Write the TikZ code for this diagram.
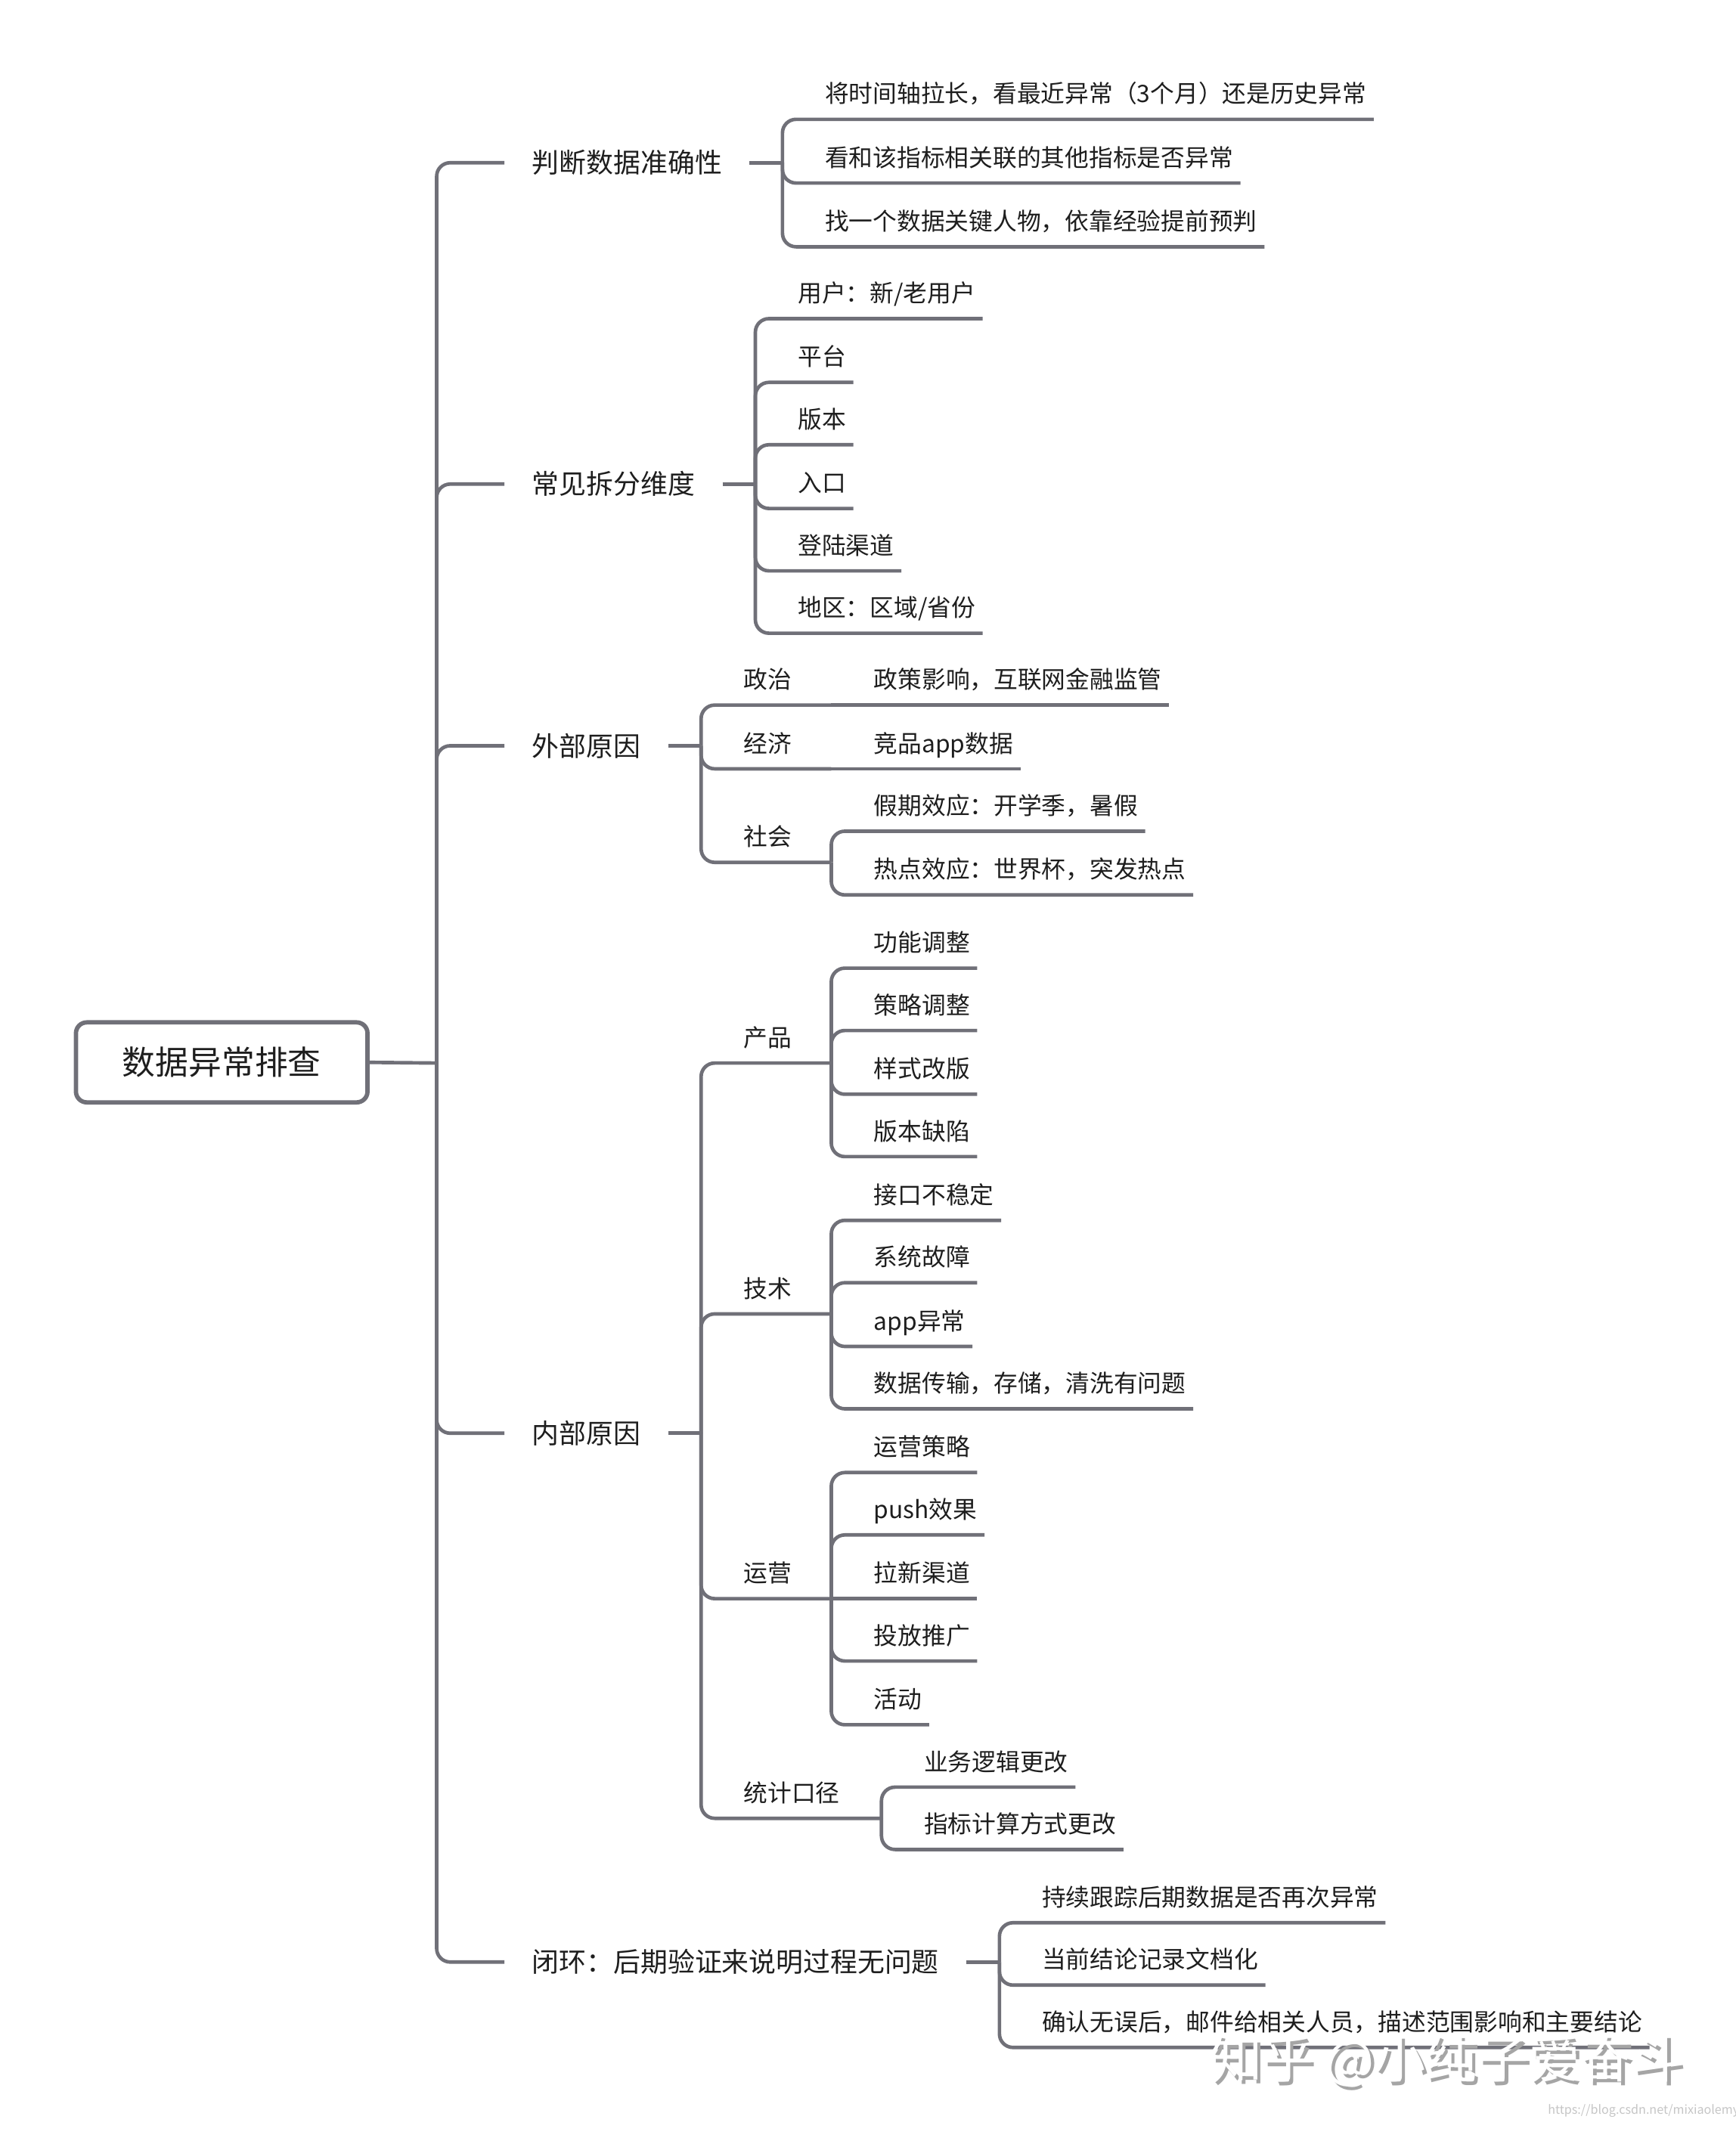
\documentclass[tikz,border=0pt]{standalone}
\usepackage{fontspec}
\setmainfont{Noto Sans CJK SC}
\definecolor{lg}{RGB}{112,112,120}
\definecolor{tx}{RGB}{30,30,30}
\definecolor{wsh}{RGB}{165,165,165}
\begin{document}
\begin{tikzpicture}[x=0.5pt,y=-0.5pt,
  conn/.style={draw=lg,line width=1.3pt,rounded corners=5pt},
  straight/.style={draw=lg,line width=1.3pt},
  lone/.style={anchor=west,inner xsep=10pt,inner ysep=0pt,text height=8.6pt,text depth=1pt,font=\fontsize{10}{12}\selectfont,text=tx},
  leaf/.style={anchor=south west,inner xsep=2.5pt,inner ysep=0pt,text height=8pt,text depth=5.9pt,font=\fontsize{8.85}{10}\selectfont,text=tx},
  rootbox/.style={draw=lg,line width=1.6pt,rounded corners=4pt,minimum width=107.5pt,minimum height=29.5pt,inner sep=0pt,font=\fontsize{12.2}{14}\selectfont,text=tx,fill=white},
  wmark/.style={font=\fontsize{19}{21}\selectfont,inner sep=0pt}]
\useasboundingbox (0,0) rectangle (1280,1579);
\fill[white] (0,0) rectangle (1280,1579);

% root
\node[rootbox] (root) at (163.5,783.5) {数据异常排查};
\coordinate (T) at (322,784);
\draw[straight] (root.east) -- (T);

% level 1
\node[lone] (a) at (372,120) {判断数据准确性};
\node[lone] (b) at (372,357) {常见拆分维度};
\node[lone] (c) at (372,550) {外部原因};
\node[lone] (d) at (372,1057) {内部原因};
\node[lone] (e) at (372,1447) {闭环：后期验证来说明过程无问题};
\foreach \n in {a,b,c,d,e}{\draw[conn] (T) -- (T |- \n.west) -- (\n.west);}

\coordinate (bA) at (577,120);
\coordinate (bB) at (557,357);
\coordinate (bC) at (517,550);
\coordinate (bD) at (517,1057);
\coordinate (bE) at (737,1447);
\draw[straight] (a.east) -- (bA);
\draw[straight] (b.east) -- (bB);
\draw[straight] (c.east) -- (bC);
\draw[straight] (d.east) -- (bD);
\draw[straight] (e.east) -- (bE);

% branch A
\node[leaf] (a1) at (603,88) {将时间轴拉长，看最近异常（3个月）还是历史异常};
\node[leaf] (a2) at (603,135) {看和该指标相关联的其他指标是否异常};
\node[leaf] (a3) at (603,182) {找一个数据关键人物，依靠经验提前预判};
\foreach \n in {a1,a2,a3}{\draw[conn] (bA) -- (bA |- \n.south) -- (\n.south east);}

% branch B
\node[leaf] (b1) at (583,235) {用户：新/老用户};
\node[leaf] (b2) at (583,282) {平台};
\node[leaf] (b3) at (583,328) {版本};
\node[leaf] (b4) at (583,375) {入口};
\node[leaf] (b5) at (583,421) {登陆渠道};
\node[leaf] (b6) at (583,467) {地区：区域/省份};
\foreach \n in {b1,b2,b3,b4,b5,b6}{\draw[conn] (bB) -- (bB |- \n.south) -- (\n.south east);}

% branch C
\node[leaf] (c1) at (543,520) {政治};
\node[leaf] (c2) at (543,567) {经济};
\node[leaf] (c3) at (543,636) {社会};
\coordinate (c1b) at (613,520);
\coordinate (c2b) at (613,567);
\coordinate (c3b) at (613,636);
\draw[conn] (bC) -- (bC |- c1.south) -- (c1b);
\draw[conn] (bC) -- (bC |- c2.south) -- (c2b);
\draw[conn] (bC) -- (bC |- c3.south) -- (c3b);
\node[leaf] (c11) at (639,520) {政策影响，互联网金融监管};
\node[leaf] (c21) at (639,567) {竞品app数据};
\draw[straight] (c1b) -- (c11.south east);
\draw[straight] (c2b) -- (c21.south east);
\node[leaf] (c31) at (639,613) {假期效应：开学季，暑假};
\node[leaf] (c32) at (639,660) {热点效应：世界杯，突发热点};
\foreach \n in {c31,c32}{\draw[conn] (c3b) -- (c3b |- \n.south) -- (\n.south east);}

% branch D
\node[leaf] (d1) at (543,784) {产品};
\node[leaf] (d2) at (543,969) {技术};
\node[leaf] (d3) at (543,1179) {运营};
\node[leaf] (d4) at (543,1341) {统计口径};
\coordinate (d1b) at (613,784);
\coordinate (d2b) at (613,969);
\coordinate (d3b) at (613,1179);
\coordinate (d4b) at (650,1341);
\draw[conn] (bD) -- (bD |- d1.south) -- (d1b);
\draw[conn] (bD) -- (bD |- d2.south) -- (d2b);
\draw[conn] (bD) -- (bD |- d3.south) -- (d3b);
\draw[conn] (bD) -- (bD |- d4.south) -- (d4b);

\node[leaf] (d11) at (639,714) {功能调整};
\node[leaf] (d12) at (639,760) {策略调整};
\node[leaf] (d13) at (639,807) {样式改版};
\node[leaf] (d14) at (639,853) {版本缺陷};
\foreach \n in {d11,d12,d13,d14}{\draw[conn] (d1b) -- (d1b |- \n.south) -- (\n.south east);}

\node[leaf] (d21) at (639,900) {接口不稳定};
\node[leaf] (d22) at (639,946) {系统故障};
\node[leaf] (d23) at (639,993) {app异常};
\node[leaf] (d24) at (639,1039) {数据传输，存储，清洗有问题};
\foreach \n in {d21,d22,d23,d24}{\draw[conn] (d2b) -- (d2b |- \n.south) -- (\n.south east);}

\node[leaf] (d31) at (639,1086) {运营策略};
\node[leaf] (d32) at (639,1132) {push效果};
\node[leaf] (d33) at (639,1179) {拉新渠道};
\node[leaf] (d34) at (639,1225) {投放推广};
\node[leaf] (d35) at (639,1272) {活动};
\foreach \n in {d31,d32,d34,d35}{\draw[conn] (d3b) -- (d3b |- \n.south) -- (\n.south east);}
\draw[straight] (d3b) -- (d33.south east);

\node[leaf] (d41) at (676,1318) {业务逻辑更改};
\node[leaf] (d42) at (676,1364) {指标计算方式更改};
\foreach \n in {d41,d42}{\draw[conn] (d4b) -- (d4b |- \n.south) -- (\n.south east);}

% branch E
\node[leaf] (e1) at (763,1418) {持续跟踪后期数据是否再次异常};
\node[leaf] (e2) at (763,1464) {当前结论记录文档化};
\node[leaf] (e3) at (763,1510) {确认无误后，邮件给相关人员，描述范围影响和主要结论};
\foreach \n in {e1,e2,e3}{\draw[conn] (bE) -- (bE |- \n.south) -- (\n.south east);}

% watermark
\node[wmark,text=wsh] (wms) at (1069.5,1522.5) {知乎 @小纯子爱奋斗};
\node[wmark,text=white] (wm) at (1067,1520) {知乎 @小纯子爱奋斗};
\node[font=\fontsize{4.5}{5}\selectfont,text=gray!45,inner sep=0pt] (url) at (1212,1557) {https://blog.csdn.net/mixiaolemy};
\end{tikzpicture}
\end{document}
